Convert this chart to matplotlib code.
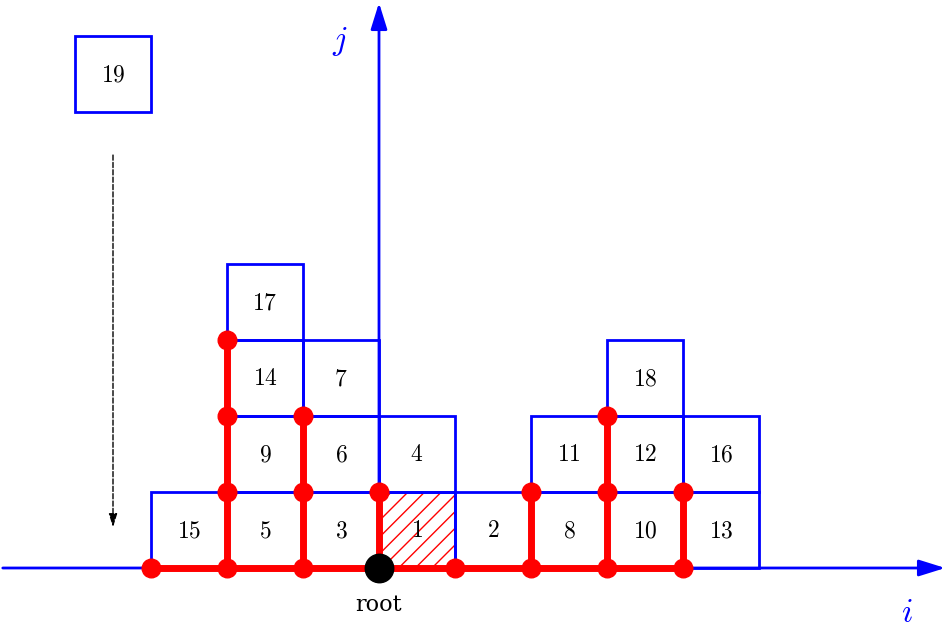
import matplotlib
matplotlib.use("Agg")
import matplotlib.pyplot as plt
from matplotlib.patches import Rectangle, FancyArrowPatch

plt.rcParams['mathtext.fontset'] = 'cm'

cells_i = [0, 1, -1, 0, -2, -1, -1, 2, -2, 3, 2, 3, 4, -2, -3, 4, -2, 3, -4]
cells_j = [0, 0, 0, 1, 0, 1, 2, 0, 1, 0, 1, 1, 0, 2, 0, 1, 3, 2, 6]
cell_labels = [str(k) for k in range(1, 20)]

red_h = [(-3, 4, 0)]  # (i0, i1, j)
red_v = [(-2, 0, 3), (-1, 0, 2), (0, 0, 1), (2, 0, 1), (3, 0, 2), (4, 0, 1)]  # (i, j0, j1)
dots_i = [-3, -2, -1, 1, 2, 3, 4, -2, -2, -2, -1, -1, 0, 2, 3, 3, 4]
dots_j = [0, 0, 0, 0, 0, 0, 0, 1, 2, 3, 1, 2, 1, 1, 1, 2, 1]

s = 76.0
fig = plt.figure(figsize=(9.48, 6.31), dpi=100)
ax = fig.add_axes([0, 0, 1, 1])
ax.set_xlim(-379 / s, (948 - 379) / s)
ax.set_ylim(-(631 - 568) / s, 568 / s)
ax.axis('off')

for i, j, lab in zip(cells_i, cells_j, cell_labels):
    ax.add_patch(Rectangle((i, j), 1, 1, fill=False, ec='blue', lw=2, zorder=2))
    ax.text(i + 0.5, j + 0.5, f'${lab}$', ha='center', va='center', fontsize=17, zorder=5)
ax.add_patch(Rectangle((0, 0), 1, 1, fill=False, ec='none', hatch='//', zorder=1))
plt.rcParams['hatch.color'] = 'red'
ax.patches[-1].set_edgecolor('red'); ax.patches[-1].set_linewidth(0)

# axes
ax.annotate('', xy=(948 / s - 379 / s, 0), xytext=(-379 / s, 0),
            arrowprops=dict(arrowstyle='-|>,head_length=1.6,head_width=0.5', color='blue', lw=2))
ax.annotate('', xy=(0, 568 / s), xytext=(0, 0),
            arrowprops=dict(arrowstyle='-|>,head_length=1.6,head_width=0.5', color='blue', lw=2))
ax.text(-39 / s, (568 - 42) / s, '$j$', color='blue', fontsize=24, ha='center', va='center')
ax.text(528 / s, -44 / s, '$i$', color='blue', fontsize=24, ha='center', va='center')

for i0, i1, j in red_h:
    ax.plot([i0, i1], [j, j], color='red', lw=5, zorder=3, solid_capstyle='butt')
for i, j0, j1 in red_v:
    ax.plot([i, i], [j0, j1], color='red', lw=5, zorder=3, solid_capstyle='butt')
ax.scatter(dots_i, dots_j, s=180, color='red', zorder=4)
ax.scatter([0], [0], s=420, color='black', zorder=6)
ax.text(0, -37 / s, 'root', ha='center', va='center', fontsize=16, family='DejaVu Serif')

ax.annotate('', xy=(-3.5, 0.5), xytext=(-3.5, 5.47),
            arrowprops=dict(arrowstyle='-|>,head_length=0.8,head_width=0.25', color='black', lw=1, ls='--'))

fig.savefig('out.png', dpi=100)
